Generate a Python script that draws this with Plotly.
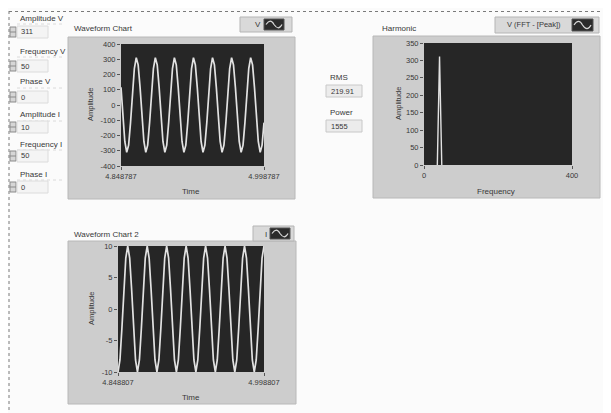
import plotly.graph_objects as go

# page is shown in a 611x413 window; the browser's default 8px body margin offsets the figure
OFF = 8
W, H = 611 - OFF, 413 - OFF

# ---------------- data ----------------
control_labels = ["Amplitude V", "Frequency V", "Phase V", "Amplitude I", "Frequency I", "Phase I"]
control_values = ["311", "50", "0", "10", "50", "0"]
rms_value = "219.91"
power_value = "1555"

# Waveform Chart (V): waveform start time, sample interval, samples
v_t0 = 4.848787
v_dt = 0.002
v_values = [116, -76, -239, -310, -263, -116, 76, 239, 310, 263,
            116, -76, -239, -310, -263, -116, 76, 239, 310, 263,
            116, -76, -239, -310, -263, -116, 76, 239, 310, 263,
            116, -76, -239, -310, -263, -116, 76, 239, 310, 263,
            116, -76, -239, -310, -263, -116, 76, 239, 310, 263,
            116, -76, -239, -310, -263, -116, 76, 239, 310, 263,
            116, -76, -239, -310, -263, -116, 76, 239, 310, 263,
            116, -76, -239, -310, -263, -116]
v_xticks = [4.848787, 4.998787]
v_xticktext = ["4.848787", "4.998787"]
v_yticks = [-400, -300, -200, -100, 0, 100, 200, 300, 400]
v_yticktext = ["-400", "-300", "-200", "-100", "0", "100", "200", "300", "400"]

# Waveform Chart 2 (I)
i_t0 = 4.848807
i_dt = 0.002
i_values = [-10, -8.09, -3.09, 3.09, 8.09, 10, 8.09, 3.09, -3.09, -8.09,
            -10, -8.09, -3.09, 3.09, 8.09, 10, 8.09, 3.09, -3.09, -8.09,
            -10, -8.09, -3.09, 3.09, 8.09, 10, 8.09, 3.09, -3.09, -8.09,
            -10, -8.09, -3.09, 3.09, 8.09, 10, 8.09, 3.09, -3.09, -8.09,
            -10, -8.09, -3.09, 3.09, 8.09, 10, 8.09, 3.09, -3.09, -8.09,
            -10, -8.09, -3.09, 3.09, 8.09, 10, 8.09, 3.09, -3.09, -8.09,
            -10, -8.09, -3.09, 3.09, 8.09, 10, 8.09, 3.09, -3.09, -8.09,
            -10, -8.09, -3.09, 3.09, 8.09, 10]
i_xticks = [4.848807, 4.998807]
i_xticktext = ["4.848807", "4.998807"]
i_yticks = [-10, -5, 0, 5, 10]
i_yticktext = ["-10", "-5", "0", "5", "10"]

# Harmonic (FFT peak)
h_freq = [36, 42, 48]
h_amp = [0, 311, 0]
h_xticks = [0, 400]
h_yticks = [0, 50, 100, 150, 200, 250, 300, 350]

# ---------------- helpers (window pixel -> paper fraction) ----------------
def px(x):
    return (x - OFF) / W

def py(y):
    return 1 - (y - OFF) / H

TXT = "#383838"
SANS = "Liberation Sans, Arial, sans-serif"
PANEL = "#cdcdcd"
PLOTBG = "#262626"
LINE = "#e2e2e2"

fig = go.Figure()

fig.add_trace(go.Scatter(y=v_values, x0=v_t0, dx=v_dt, mode="lines",
                         line=dict(color=LINE, width=1.7), xaxis="x", yaxis="y",
                         hoverinfo="skip", showlegend=False))
fig.add_trace(go.Scatter(y=i_values, x0=i_t0, dx=i_dt, mode="lines",
                         line=dict(color=LINE, width=1.7), xaxis="x2", yaxis="y2",
                         hoverinfo="skip", showlegend=False))
fig.add_trace(go.Scatter(x=h_freq, y=h_amp, mode="lines",
                         line=dict(color=LINE, width=1.4), xaxis="x3", yaxis="y3",
                         hoverinfo="skip", showlegend=False))

# plot-area rectangles (window pixels): left, top, right, bottom
P1 = (121, 44, 264, 166)
P2 = (118, 246, 264, 372)
P3 = (424, 43, 572, 165)

def dom(p):
    return [px(p[0]), px(p[2])], [py(p[3]), py(p[1])]

axcommon = dict(showgrid=False, zeroline=False, showline=False, ticks="outside",
                ticklen=3, tickwidth=1, tickcolor="#555", automargin=False,
                tickfont=dict(family=SANS, size=7.5, color=TXT), fixedrange=True)

d1x, d1y = dom(P1)
d2x, d2y = dom(P2)
d3x, d3y = dom(P3)

fig.update_layout(
    width=W, height=H, margin=dict(l=0, r=0, t=0, b=0, pad=0, autoexpand=False),
    paper_bgcolor="#fbfbfb", plot_bgcolor=PLOTBG, showlegend=False,
    xaxis=dict(domain=d1x, range=[v_xticks[0], v_xticks[1]], tickvals=v_xticks,
               ticktext=v_xticktext, anchor="y", **axcommon),
    yaxis=dict(domain=d1y, range=[-400, 400], tickvals=v_yticks,
               ticktext=v_yticktext, anchor="x", **axcommon),
    xaxis2=dict(domain=d2x, range=[i_xticks[0], i_xticks[1]], tickvals=i_xticks,
                ticktext=i_xticktext, anchor="y2", **axcommon),
    yaxis2=dict(domain=d2y, range=[-10, 10], tickvals=i_yticks,
                ticktext=i_yticktext, anchor="x2", **axcommon),
    xaxis3=dict(domain=d3x, range=[0, 400], tickvals=h_xticks, anchor="y3", **axcommon),
    yaxis3=dict(domain=d3y, range=[0, 350], tickvals=h_yticks, anchor="x3", **axcommon),
)

shapes = []

def rect(x0, y0, x1, y1, fill, line="rgba(0,0,0,0)", lw=0):
    shapes.append(dict(type="rect", xref="paper", yref="paper", layer="below",
                       x0=px(x0), x1=px(x1), y0=py(y1), y1=py(y0),
                       fillcolor=fill, line=dict(color=line, width=lw)))

def hline(x0, x1, y, color, dash="dot", w=1):
    shapes.append(dict(type="line", xref="paper", yref="paper", layer="below",
                       x0=px(x0), x1=px(x1), y0=py(y), y1=py(y),
                       line=dict(color=color, width=w, dash=dash)))

def vline(x, y0, y1, color, dash="dot", w=1):
    shapes.append(dict(type="line", xref="paper", yref="paper", layer="below",
                       x0=px(x), x1=px(x), y0=py(y0), y1=py(y1),
                       line=dict(color=color, width=w, dash=dash)))

# outer dotted frame
hline(9, 611, 11.5, "#7a7a7a")
vline(9, 11, 413, "#7a7a7a")

# panels
rect(68, 37, 295, 199, PANEL, "#b8b8b8", 1)
rect(68, 241, 296, 404, PANEL, "#b8b8b8", 1)
rect(373, 36, 600, 198, PANEL, "#b8b8b8", 1)

# dark plot areas
for p in (P1, P2, P3):
    rect(p[0], p[1], p[2], p[3], PLOTBG)

annotations = []

def text(x, y, s, size=8, anchor="left", angle=0, color=TXT):
    annotations.append(dict(xref="paper", yref="paper", x=px(x), y=py(y), text=s,
                            showarrow=False, xanchor=anchor, yanchor="middle",
                            textangle=angle, font=dict(family=SANS, size=size, color=color)))

def sine_icon(x0, y0, x1, y1):
    rect(x0, y0, x1, y1, "#2b2b2b", "#555", 1)
    xm = (x0 + x1) / 2
    ym = (y0 + y1) / 2
    a = (y1 - y0) * 0.3
    q = (x1 - x0) / 4
    path = "M {} {} Q {} {} {} {} Q {} {} {} {}".format(
        px(x0 + 2), py(ym), px(x0 + 2 + q * 0.9), py(ym - 2 * a), px(xm), py(ym),
        px(xm + q * 0.9), py(ym + 2 * a), px(x1 - 2), py(ym))
    shapes.append(dict(type="path", xref="paper", yref="paper", layer="above",
                       path=path, line=dict(color="#d8d8d8", width=1.2)))

# legend boxes
rect(240, 17, 292, 32, "#d9d9d9", "#b5b5b5", 1)
text(253, 25, "V", 8)
sine_icon(264, 19, 284, 30)

rect(253, 226, 294, 241, "#d9d9d9", "#b5b5b5", 1)
text(263, 234, "I", 8)
sine_icon(270, 228, 290, 239)

rect(495, 17, 599, 33, "#d9d9d9", "#b5b5b5", 1)
text(534, 25, "V (FFT - [Peak])", 7.5, anchor="center")
sine_icon(572, 19, 593, 31)

# chart titles
text(72, 29, "Waveform Chart", 8)
text(72, 235, "Waveform Chart 2", 8)
text(380, 28, "Harmonic", 8)

# axis titles
text(91, 105, "Amplitude", 7.5, anchor="center", angle=-90)
text(191, 191, "Time", 8, anchor="center")
text(91, 309, "Amplitude", 7.5, anchor="center", angle=-90)
text(191, 397, "Time", 8, anchor="center")
text(398, 104, "Amplitude", 7.5, anchor="center", angle=-90)
text(496, 191, "Frequency", 8, anchor="center")

# left numeric controls
label_y = [18, 51, 82, 115, 144, 174]
value_y = [32, 66, 97, 127, 156, 187]
for lab, val, ly, vy in zip(control_labels, control_values, label_y, value_y):
    text(18, ly, lab, 8)
    hline(17, 62, ly + 6, "#dadada")
    shapes.append(dict(type="rect", xref="paper", yref="paper", layer="below",
                       x0=px(10), x1=px(16), y0=py(vy + 5), y1=py(vy - 5),
                       fillcolor="#d6d6d6", line=dict(color="#8a8a8a", width=1)))
    hline(10, 16, vy, "#8a8a8a", dash="solid")
    rect(17, vy - 6, 48, vy + 6, "#f4f4f4", "#dcdcdc", 1)
    text(19, vy, val, 7.5)

# RMS / Power indicators
text(328, 77, "RMS", 8)
rect(326, 85, 362, 97, "#ececec", "#c8c8c8", 1)
text(329, 91, rms_value, 7.5)
text(328, 112, "Power", 8)
rect(326, 120, 362, 132, "#ececec", "#c8c8c8", 1)
text(329, 126, power_value, 7.5)

fig.update_layout(shapes=shapes, annotations=annotations)

fig.write_html("out.html")
